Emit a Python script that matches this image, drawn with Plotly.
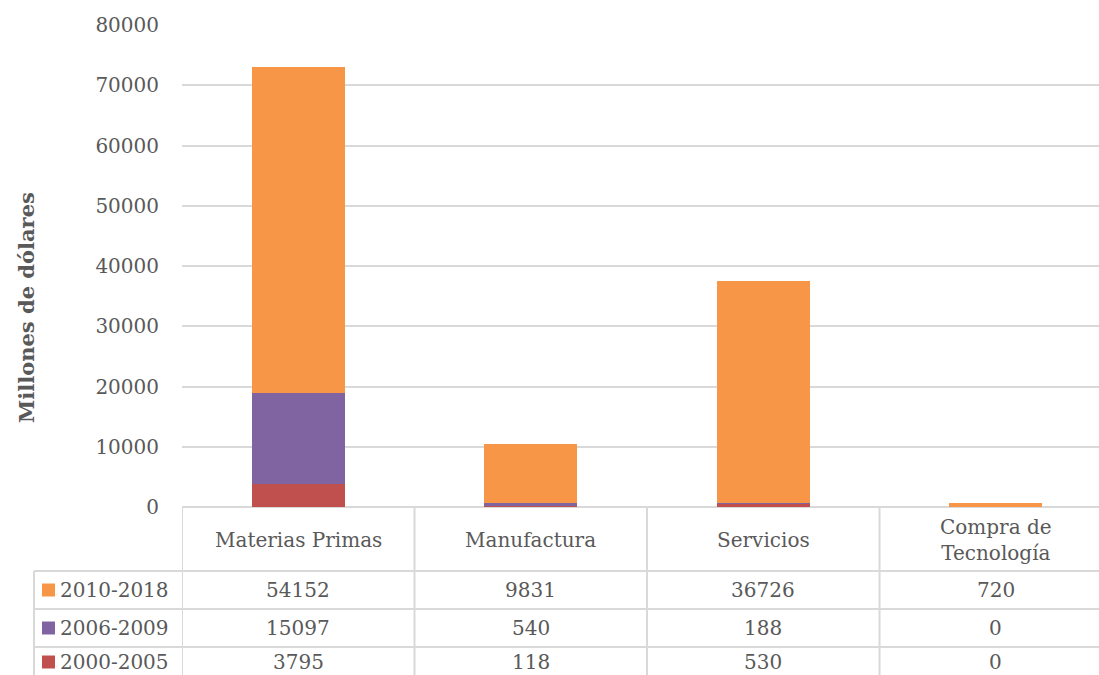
import plotly.graph_objects as go

categories = ["Materias Primas", "Manufactura", "Servicios", "Compra de<br>Tecnología"]
series_names = ["2000-2005", "2006-2009", "2010-2018"]
v_2000_2005 = [3795, 118, 530, 0]
v_2006_2009 = [15097, 540, 188, 0]
v_2010_2018 = [54152, 9831, 36726, 720]
colors = ["#C0504D", "#8064A2", "#F79646"]
y_ticks = [0, 10000, 20000, 30000, 40000, 50000, 60000, 70000, 80000]

W, H = 1099, 675
FONT = "DejaVu Serif"
TXT = "#595959"
GRID = "#D9D9D9"
FS = 20

def py(p):  # pixel y -> paper
    return 1 - p / H

def px(p):
    return p / W

values = [v_2000_2005, v_2006_2009, v_2010_2018]
xs = list(range(len(categories)))

fig = go.Figure()
for name, vals, c in zip(series_names, values, colors):
    fig.add_trace(go.Bar(x=xs, y=vals, name=name, marker=dict(color=c, line=dict(width=0)),
                         width=0.4, showlegend=False, hoverinfo="skip"))

plot_left, plot_top, plot_bottom = 182, 25, 507
fig.update_layout(
    width=W, height=H, barmode="stack",
    margin=dict(l=0, r=0, t=0, b=0, pad=0),
    paper_bgcolor="white", plot_bgcolor="white",
    showlegend=False,
    font=dict(family=FONT, color=TXT, size=FS),
    xaxis=dict(domain=[px(plot_left), 1], range=[-0.5, 3.444], showticklabels=False,
               showgrid=False, zeroline=False, showline=False, ticks="", automargin=False),
    yaxis=dict(domain=[py(plot_bottom), py(plot_top)], range=[0, 80000], tickvals=y_ticks,
               ticktext=[str(t) for t in y_ticks], automargin=False,
               showgrid=True, gridcolor=GRID, gridwidth=1.5, zeroline=True, zerolinecolor=GRID,
               zerolinewidth=1.5, showline=False, ticks="", ticklabelstandoff=22,
               tickfont=dict(family=FONT, size=FS, color=TXT)),
)

shapes = []
ann = []
line = dict(color=GRID, width=2)
header_bottom = 571
row_lines = [571, 609, 647]
row_centers = [590, 628, 662]
table_left = 34
for i in range(len(categories)):
    xb = i - 0.5
    shapes.append(dict(type="line", xref="x", yref="paper", x0=xb, x1=xb,
                       y0=py(plot_bottom), y1=0, line=line))
shapes.append(dict(type="line", xref="paper", yref="paper", x0=px(table_left), x1=px(table_left),
                   y0=py(header_bottom), y1=0, line=line))
for ry in row_lines:
    shapes.append(dict(type="line", xref="paper", yref="paper", x0=px(table_left), x1=1,
                       y0=py(ry), y1=py(ry), line=line))

for i, c in enumerate(categories):
    ann.append(dict(x=i, y=py(540), xref="x", yref="paper", text=c, showarrow=False,
                    xanchor="center", yanchor="middle",
                    font=dict(family=FONT, size=FS, color=TXT), align="center"))

row_order = [2, 1, 0]
for r, si in enumerate(row_order):
    yc = py(row_centers[r])
    shapes.append(dict(type="rect", xref="paper", yref="paper", x0=px(42), x1=px(55),
                       y0=py(row_centers[r] + 6.5), y1=py(row_centers[r] - 6.5),
                       fillcolor=colors[si], line=dict(width=0)))
    ann.append(dict(x=px(58), y=yc, xref="paper", yref="paper", text=series_names[si],
                    showarrow=False, xanchor="left", yanchor="middle",
                    font=dict(family=FONT, size=FS, color=TXT)))
    for i, v in enumerate(values[si]):
        ann.append(dict(x=i, y=yc, xref="x", yref="paper", text=str(v), showarrow=False,
                        xanchor="center", yanchor="middle",
                        font=dict(family=FONT, size=FS, color=TXT)))

ann.append(dict(x=px(26), y=py(308), xref="paper", yref="paper", text="<b>Millones de dólares</b>",
                showarrow=False, textangle=-90, xanchor="center", yanchor="middle",
                font=dict(family=FONT, size=21, color=TXT)))

fig.update_layout(shapes=shapes, annotations=ann)
fig.write_html("out.html", config={"displayModeBar": False},
               post_script="document.body.style.margin='0';document.body.style.overflow='hidden';")
